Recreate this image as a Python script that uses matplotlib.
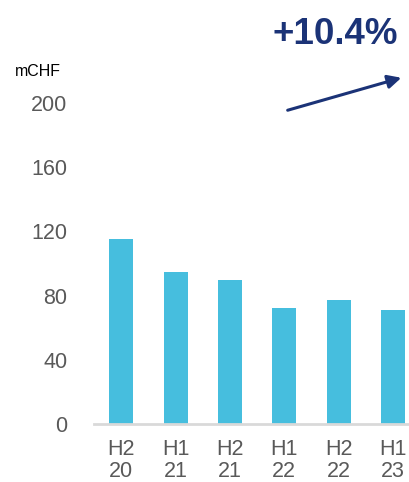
import numpy as np
import matplotlib.pyplot as plt

plt.rcParams['font.family'] = ['Liberation Sans', 'DejaVu Sans']

periods = ['H2\n20', 'H1\n21', 'H2\n21', 'H1\n22', 'H2\n22', 'H1\n23']
values = [115, 95, 90, 72, 77, 71]
yticks = [0, 40, 80, 120, 160, 200]
growth = '+10.4%'

bar_color = '#46BEDE'
navy = '#1B3377'
grey_text = '#595959'

fig = plt.figure(figsize=(4.10, 4.82), dpi=100)
ax = fig.add_axes([94 / 410, 1 - 424 / 482, 1 - 94 / 410, (424 - 103) / 482])

x = np.arange(len(periods))
ax.bar(x, values, width=0.44, color=bar_color, zorder=2)

ax.set_xlim(-0.5, 5.31)
ax.set_ylim(0, 200)
ax.set_yticks(yticks)
ax.set_xticks(x)
ax.set_xticklabels(periods, linespacing=1.05)

for side in ['top', 'right', 'left']:
    ax.spines[side].set_visible(False)
ax.spines['bottom'].set_color('#D9D9D9')
ax.spines['bottom'].set_linewidth(2)
ax.spines['bottom'].set_zorder(3)

ax.tick_params(axis='y', length=0, pad=19, labelsize=15.5, labelcolor=grey_text)
ax.tick_params(axis='x', length=0, pad=11, labelsize=15.5, labelcolor=grey_text)

fig.text(15 / 410, 1 - 76 / 482, 'mCHF', fontsize=11.5, color='black')
fig.text(398 / 410, 1 - 44 / 482, growth, fontsize=26.5, fontweight='bold',
         color=navy, ha='right', va='baseline')

fig.add_artist(plt.matplotlib.patches.FancyArrowPatch(
    (285 / 410, 1 - 111 / 482), (404 / 410, 1 - 77 / 482),
    transform=fig.transFigure, arrowstyle='-|>', mutation_scale=20,
    color=navy, linewidth=2.2))

fig.savefig('out.png', dpi=100)
